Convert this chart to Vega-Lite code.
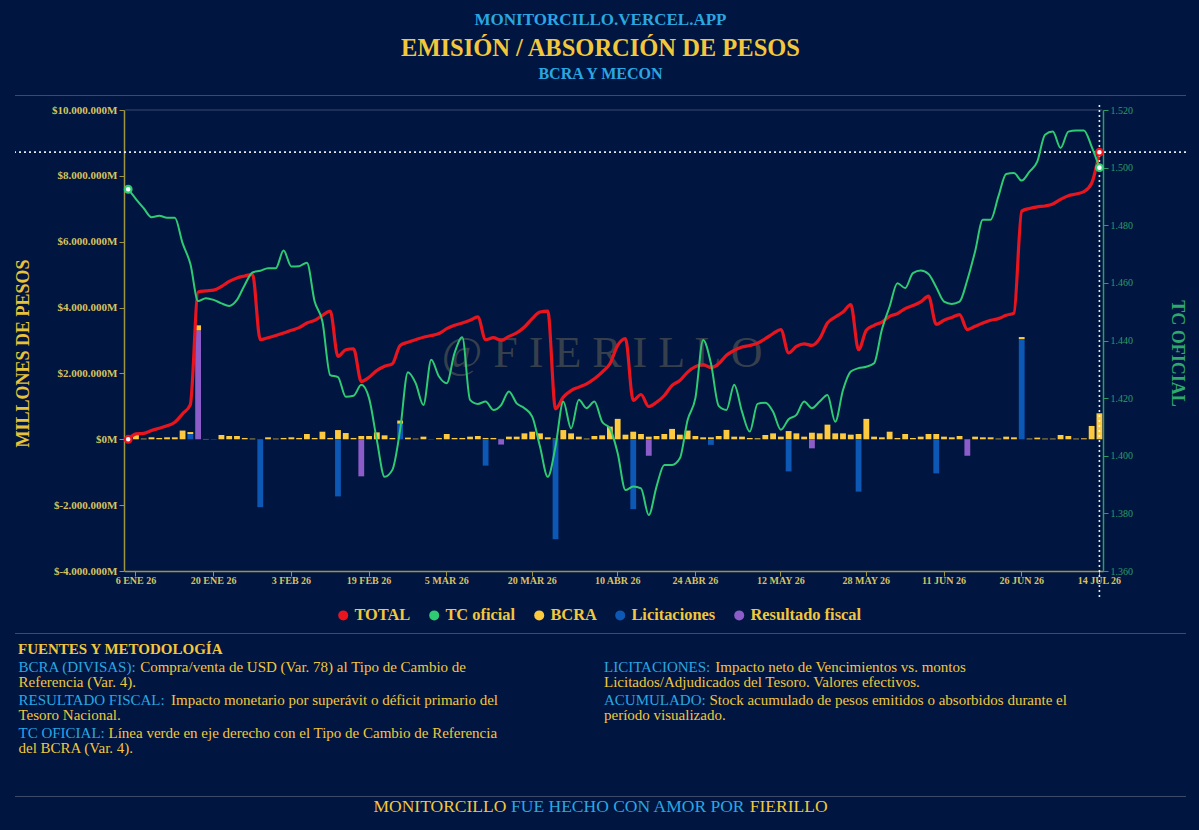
{
  "$schema": "https://vega.github.io/schema/vega-lite/v6.json",
  "background": "#001540",
  "padding": {"left": 14, "top": 10, "right": 14, "bottom": 15},
  "title": {"text": "MONITORCILLO.VERCEL.APP", "color": "#2AA7E1", "fontSize": 17, "fontWeight": "bold", "font": "Liberation Serif", "anchor": "middle", "offset": 7},
  "columns": 1,
  "align": "none",
  "spacing": 8,
  "datasets": {
    "diario": [
      {"fecha":"2026-01-05","total":0,"tc":1492.5},
      {"fecha":"2026-01-06","total":165000,"tc":1489.1},
      {"fecha":"2026-01-07","total":180000,"tc":1485.9},
      {"fecha":"2026-01-08","total":265000,"tc":1482.8},
      {"fecha":"2026-01-09","total":335000,"tc":1483.3},
      {"fecha":"2026-01-12","total":408000,"tc":1482.6},
      {"fecha":"2026-01-13","total":518000,"tc":1482.6},
      {"fecha":"2026-01-14","total":773000,"tc":1473.8},
      {"fecha":"2026-01-15","total":1056000,"tc":1466.6},
      {"fecha":"2026-01-16","total":4475000,"tc":1453.7},
      {"fecha":"2026-01-19","total":4505000,"tc":1454.7},
      {"fecha":"2026-01-20","total":4530000,"tc":1454.1},
      {"fecha":"2026-01-21","total":4640000,"tc":1452.9},
      {"fecha":"2026-01-22","total":4795000,"tc":1452.0},
      {"fecha":"2026-01-23","total":4900000,"tc":1454.1},
      {"fecha":"2026-01-26","total":4960000,"tc":1459.3},
      {"fecha":"2026-01-27","total":5010000,"tc":1463.6},
      {"fecha":"2026-01-28","total":3025000,"tc":1464.2},
      {"fecha":"2026-01-29","total":3085000,"tc":1465.1},
      {"fecha":"2026-01-30","total":3150000,"tc":1465.1},
      {"fecha":"2026-02-02","total":3225000,"tc":1471.2},
      {"fecha":"2026-02-03","total":3310000,"tc":1465.7},
      {"fecha":"2026-02-04","total":3390000,"tc":1465.8},
      {"fecha":"2026-02-05","total":3530000,"tc":1467.0},
      {"fecha":"2026-02-06","total":3610000,"tc":1453.5},
      {"fecha":"2026-02-09","total":3765000,"tc":1446.6},
      {"fecha":"2026-02-10","total":3895000,"tc":1428.0},
      {"fecha":"2026-02-11","total":2515000,"tc":1427.3},
      {"fecha":"2026-02-12","total":2720000,"tc":1420.5},
      {"fecha":"2026-02-13","total":2750000,"tc":1420.8},
      {"fecha":"2026-02-18","total":1755000,"tc":1424.6},
      {"fecha":"2026-02-19","total":1885000,"tc":1420.0},
      {"fecha":"2026-02-20","total":2090000,"tc":1405.5},
      {"fecha":"2026-02-23","total":2220000,"tc":1392.7},
      {"fecha":"2026-02-24","total":2290000,"tc":1395.1},
      {"fecha":"2026-02-25","total":2850000,"tc":1409.0},
      {"fecha":"2026-02-26","total":2950000,"tc":1429.0},
      {"fecha":"2026-02-27","total":3025000,"tc":1425.2},
      {"fecha":"2026-03-02","total":3100000,"tc":1417.6},
      {"fecha":"2026-03-03","total":3150000,"tc":1433.3},
      {"fecha":"2026-03-04","total":3210000,"tc":1427.5},
      {"fecha":"2026-03-05","total":3360000,"tc":1425.2},
      {"fecha":"2026-03-06","total":3460000,"tc":1435.6},
      {"fecha":"2026-03-09","total":3530000,"tc":1441.1},
      {"fecha":"2026-03-10","total":3615000,"tc":1419.4},
      {"fecha":"2026-03-11","total":3715000,"tc":1418.0},
      {"fecha":"2026-03-12","total":3025000,"tc":1418.8},
      {"fecha":"2026-03-13","total":3085000,"tc":1415.9},
      {"fecha":"2026-03-16","total":3005000,"tc":1417.6},
      {"fecha":"2026-03-17","total":3125000,"tc":1422.3},
      {"fecha":"2026-03-18","total":3230000,"tc":1418.2},
      {"fecha":"2026-03-19","total":3410000,"tc":1416.5},
      {"fecha":"2026-03-20","total":3665000,"tc":1413.6},
      {"fecha":"2026-03-25","total":3865000,"tc":1403.2},
      {"fecha":"2026-03-26","total":3895000,"tc":1392.7},
      {"fecha":"2026-03-27","total":925000,"tc":1403.2},
      {"fecha":"2026-03-30","total":1280000,"tc":1418.8},
      {"fecha":"2026-03-31","total":1480000,"tc":1409.5},
      {"fecha":"2026-04-01","total":1585000,"tc":1419.4},
      {"fecha":"2026-04-06","total":1685000,"tc":1416.5},
      {"fecha":"2026-04-07","total":1840000,"tc":1418.8},
      {"fecha":"2026-04-08","total":2040000,"tc":1411.8},
      {"fecha":"2026-04-09","total":2295000,"tc":1409.5},
      {"fecha":"2026-04-10","total":2850000,"tc":1400.9},
      {"fecha":"2026-04-13","total":3055000,"tc":1388.1},
      {"fecha":"2026-04-14","total":1180000,"tc":1389.3},
      {"fecha":"2026-04-15","total":1360000,"tc":1388.7},
      {"fecha":"2026-04-16","total":995000,"tc":1379.4},
      {"fecha":"2026-04-17","total":1125000,"tc":1389.3},
      {"fecha":"2026-04-20","total":1330000,"tc":1396.8},
      {"fecha":"2026-04-21","total":1635000,"tc":1396.8},
      {"fecha":"2026-04-22","total":1785000,"tc":1399.1},
      {"fecha":"2026-04-23","total":2040000,"tc":1412.4},
      {"fecha":"2026-04-24","total":2205000,"tc":1420.0},
      {"fecha":"2026-04-27","total":2265000,"tc":1440.2},
      {"fecha":"2026-04-28","total":2175000,"tc":1432.1},
      {"fecha":"2026-04-29","total":2295000,"tc":1417.3},
      {"fecha":"2026-04-30","total":2550000,"tc":1415.9},
      {"fecha":"2026-05-04","total":2700000,"tc":1424.6},
      {"fecha":"2026-05-05","total":2800000,"tc":1415.3},
      {"fecha":"2026-05-06","total":2850000,"tc":1408.4},
      {"fecha":"2026-05-07","total":2920000,"tc":1418.0},
      {"fecha":"2026-05-08","total":3055000,"tc":1418.4},
      {"fecha":"2026-05-11","total":3210000,"tc":1415.3},
      {"fecha":"2026-05-12","total":3330000,"tc":1409.0},
      {"fecha":"2026-05-13","total":2620000,"tc":1412.7},
      {"fecha":"2026-05-14","total":2820000,"tc":1414.2},
      {"fecha":"2026-05-15","total":2900000,"tc":1418.8},
      {"fecha":"2026-05-18","total":2850000,"tc":1416.5},
      {"fecha":"2026-05-19","total":3055000,"tc":1418.8},
      {"fecha":"2026-05-20","total":3530000,"tc":1421.1},
      {"fecha":"2026-05-21","total":3715000,"tc":1411.8},
      {"fecha":"2026-05-22","total":3865000,"tc":1422.8},
      {"fecha":"2026-05-26","total":4090000,"tc":1429.2},
      {"fecha":"2026-05-27","total":2720000,"tc":1430.4},
      {"fecha":"2026-05-28","total":3310000,"tc":1430.9},
      {"fecha":"2026-05-29","total":3460000,"tc":1432.1},
      {"fecha":"2026-06-01","total":3560000,"tc":1443.7},
      {"fecha":"2026-06-02","total":3735000,"tc":1451.8},
      {"fecha":"2026-06-03","total":3815000,"tc":1459.9},
      {"fecha":"2026-06-04","total":3970000,"tc":1458.2},
      {"fecha":"2026-06-05","total":4060000,"tc":1463.4},
      {"fecha":"2026-06-08","total":4170000,"tc":1464.3},
      {"fecha":"2026-06-09","total":4345000,"tc":1463.1},
      {"fecha":"2026-06-10","total":3490000,"tc":1458.5},
      {"fecha":"2026-06-11","total":3615000,"tc":1453.5},
      {"fecha":"2026-06-12","total":3700000,"tc":1452.7},
      {"fecha":"2026-06-16","total":3785000,"tc":1453.5},
      {"fecha":"2026-06-17","total":3330000,"tc":1461.0},
      {"fecha":"2026-06-18","total":3430000,"tc":1470.9},
      {"fecha":"2026-06-19","total":3530000,"tc":1481.9},
      {"fecha":"2026-06-22","total":3615000,"tc":1481.9},
      {"fecha":"2026-06-23","total":3665000,"tc":1490.0},
      {"fecha":"2026-06-24","total":3765000,"tc":1497.8},
      {"fecha":"2026-06-25","total":3835000,"tc":1498.1},
      {"fecha":"2026-06-26","total":6930000,"tc":1495.5},
      {"fecha":"2026-06-29","total":7010000,"tc":1498.6},
      {"fecha":"2026-06-30","total":7060000,"tc":1502.1},
      {"fecha":"2026-07-01","total":7085000,"tc":1511.4},
      {"fecha":"2026-07-02","total":7145000,"tc":1512.5},
      {"fecha":"2026-07-03","total":7285000,"tc":1506.8},
      {"fecha":"2026-07-06","total":7395000,"tc":1512.5},
      {"fecha":"2026-07-07","total":7450000,"tc":1512.9},
      {"fecha":"2026-07-08","total":7520000,"tc":1512.9},
      {"fecha":"2026-07-13","total":7775000,"tc":1507.3},
      {"fecha":"2026-07-14","total":8720000,"tc":1500.0}
    ],
    "barras": [
      {"fecha":"2026-01-05","serie":"BCRA","valor":50000},
      {"fecha":"2026-01-06","serie":"BCRA","valor":130000},
      {"fecha":"2026-01-07","serie":"BCRA","valor":20000},
      {"fecha":"2026-01-08","serie":"BCRA","valor":60000},
      {"fecha":"2026-01-09","serie":"BCRA","valor":40000},
      {"fecha":"2026-01-12","serie":"BCRA","valor":60000},
      {"fecha":"2026-01-13","serie":"BCRA","valor":60000},
      {"fecha":"2026-01-14","serie":"BCRA","valor":265000},
      {"fecha":"2026-01-15","serie":"BCRA","valor":60000},
      {"fecha":"2026-01-16","serie":"BCRA","valor":160000},
      {"fecha":"2026-01-19","serie":"BCRA","valor":10000},
      {"fecha":"2026-01-20","serie":"BCRA","valor":5000},
      {"fecha":"2026-01-21","serie":"BCRA","valor":130000},
      {"fecha":"2026-01-22","serie":"BCRA","valor":100000},
      {"fecha":"2026-01-23","serie":"BCRA","valor":100000},
      {"fecha":"2026-01-26","serie":"BCRA","valor":40000},
      {"fecha":"2026-01-27","serie":"BCRA","valor":20000},
      {"fecha":"2026-01-28","serie":"BCRA","valor":5000},
      {"fecha":"2026-01-29","serie":"BCRA","valor":60000},
      {"fecha":"2026-01-30","serie":"BCRA","valor":20000},
      {"fecha":"2026-02-02","serie":"BCRA","valor":40000},
      {"fecha":"2026-02-03","serie":"BCRA","valor":60000},
      {"fecha":"2026-02-04","serie":"BCRA","valor":40000},
      {"fecha":"2026-02-05","serie":"BCRA","valor":160000},
      {"fecha":"2026-02-06","serie":"BCRA","valor":40000},
      {"fecha":"2026-02-09","serie":"BCRA","valor":230000},
      {"fecha":"2026-02-10","serie":"BCRA","valor":40000},
      {"fecha":"2026-02-11","serie":"BCRA","valor":280000},
      {"fecha":"2026-02-12","serie":"BCRA","valor":190000},
      {"fecha":"2026-02-13","serie":"BCRA","valor":40000},
      {"fecha":"2026-02-18","serie":"BCRA","valor":100000},
      {"fecha":"2026-02-19","serie":"BCRA","valor":100000},
      {"fecha":"2026-02-20","serie":"BCRA","valor":210000},
      {"fecha":"2026-02-23","serie":"BCRA","valor":120000},
      {"fecha":"2026-02-24","serie":"BCRA","valor":40000},
      {"fecha":"2026-02-25","serie":"BCRA","valor":100000},
      {"fecha":"2026-02-26","serie":"BCRA","valor":50000},
      {"fecha":"2026-02-27","serie":"BCRA","valor":20000},
      {"fecha":"2026-03-02","serie":"BCRA","valor":80000},
      {"fecha":"2026-03-03","serie":"BCRA","valor":5000},
      {"fecha":"2026-03-04","serie":"BCRA","valor":40000},
      {"fecha":"2026-03-05","serie":"BCRA","valor":160000},
      {"fecha":"2026-03-06","serie":"BCRA","valor":40000},
      {"fecha":"2026-03-09","serie":"BCRA","valor":40000},
      {"fecha":"2026-03-10","serie":"BCRA","valor":80000},
      {"fecha":"2026-03-11","serie":"BCRA","valor":100000},
      {"fecha":"2026-03-12","serie":"BCRA","valor":40000},
      {"fecha":"2026-03-13","serie":"BCRA","valor":40000},
      {"fecha":"2026-03-16","serie":"BCRA","valor":10000},
      {"fecha":"2026-03-17","serie":"BCRA","valor":80000},
      {"fecha":"2026-03-18","serie":"BCRA","valor":80000},
      {"fecha":"2026-03-19","serie":"BCRA","valor":180000},
      {"fecha":"2026-03-20","serie":"BCRA","valor":230000},
      {"fecha":"2026-03-25","serie":"BCRA","valor":180000},
      {"fecha":"2026-03-26","serie":"BCRA","valor":60000},
      {"fecha":"2026-03-27","serie":"BCRA","valor":20000},
      {"fecha":"2026-03-30","serie":"BCRA","valor":280000},
      {"fecha":"2026-03-31","serie":"BCRA","valor":180000},
      {"fecha":"2026-04-01","serie":"BCRA","valor":80000},
      {"fecha":"2026-04-06","serie":"BCRA","valor":20000},
      {"fecha":"2026-04-07","serie":"BCRA","valor":100000},
      {"fecha":"2026-04-08","serie":"BCRA","valor":120000},
      {"fecha":"2026-04-09","serie":"BCRA","valor":385000},
      {"fecha":"2026-04-10","serie":"BCRA","valor":620000},
      {"fecha":"2026-04-13","serie":"BCRA","valor":140000},
      {"fecha":"2026-04-14","serie":"BCRA","valor":230000},
      {"fecha":"2026-04-15","serie":"BCRA","valor":160000},
      {"fecha":"2026-04-16","serie":"BCRA","valor":80000},
      {"fecha":"2026-04-17","serie":"BCRA","valor":100000},
      {"fecha":"2026-04-20","serie":"BCRA","valor":160000},
      {"fecha":"2026-04-21","serie":"BCRA","valor":315000},
      {"fecha":"2026-04-22","serie":"BCRA","valor":140000},
      {"fecha":"2026-04-23","serie":"BCRA","valor":265000},
      {"fecha":"2026-04-24","serie":"BCRA","valor":100000},
      {"fecha":"2026-04-27","serie":"BCRA","valor":60000},
      {"fecha":"2026-04-28","serie":"BCRA","valor":60000},
      {"fecha":"2026-04-29","serie":"BCRA","valor":100000},
      {"fecha":"2026-04-30","serie":"BCRA","valor":285000},
      {"fecha":"2026-05-04","serie":"BCRA","valor":80000},
      {"fecha":"2026-05-05","serie":"BCRA","valor":80000},
      {"fecha":"2026-05-06","serie":"BCRA","valor":40000},
      {"fecha":"2026-05-07","serie":"BCRA","valor":30000},
      {"fecha":"2026-05-08","serie":"BCRA","valor":130000},
      {"fecha":"2026-05-11","serie":"BCRA","valor":180000},
      {"fecha":"2026-05-12","serie":"BCRA","valor":80000},
      {"fecha":"2026-05-13","serie":"BCRA","valor":250000},
      {"fecha":"2026-05-14","serie":"BCRA","valor":180000},
      {"fecha":"2026-05-15","serie":"BCRA","valor":80000},
      {"fecha":"2026-05-18","serie":"BCRA","valor":200000},
      {"fecha":"2026-05-19","serie":"BCRA","valor":180000},
      {"fecha":"2026-05-20","serie":"BCRA","valor":445000},
      {"fecha":"2026-05-21","serie":"BCRA","valor":180000},
      {"fecha":"2026-05-22","serie":"BCRA","valor":180000},
      {"fecha":"2026-05-26","serie":"BCRA","valor":140000},
      {"fecha":"2026-05-27","serie":"BCRA","valor":160000},
      {"fecha":"2026-05-28","serie":"BCRA","valor":620000},
      {"fecha":"2026-05-29","serie":"BCRA","valor":80000},
      {"fecha":"2026-06-01","serie":"BCRA","valor":60000},
      {"fecha":"2026-06-02","serie":"BCRA","valor":230000},
      {"fecha":"2026-06-03","serie":"BCRA","valor":40000},
      {"fecha":"2026-06-04","serie":"BCRA","valor":160000},
      {"fecha":"2026-06-05","serie":"BCRA","valor":40000},
      {"fecha":"2026-06-08","serie":"BCRA","valor":80000},
      {"fecha":"2026-06-09","serie":"BCRA","valor":160000},
      {"fecha":"2026-06-10","serie":"BCRA","valor":160000},
      {"fecha":"2026-06-11","serie":"BCRA","valor":80000},
      {"fecha":"2026-06-12","serie":"BCRA","valor":60000},
      {"fecha":"2026-06-16","serie":"BCRA","valor":100000},
      {"fecha":"2026-06-17","serie":"BCRA","valor":5000},
      {"fecha":"2026-06-18","serie":"BCRA","valor":80000},
      {"fecha":"2026-06-19","serie":"BCRA","valor":60000},
      {"fecha":"2026-06-22","serie":"BCRA","valor":60000},
      {"fecha":"2026-06-23","serie":"BCRA","valor":20000},
      {"fecha":"2026-06-24","serie":"BCRA","valor":80000},
      {"fecha":"2026-06-25","serie":"BCRA","valor":60000},
      {"fecha":"2026-06-26","serie":"BCRA","valor":60000},
      {"fecha":"2026-06-29","serie":"BCRA","valor":20000},
      {"fecha":"2026-06-30","serie":"BCRA","valor":50000},
      {"fecha":"2026-07-01","serie":"BCRA","valor":20000},
      {"fecha":"2026-07-02","serie":"BCRA","valor":20000},
      {"fecha":"2026-07-03","serie":"BCRA","valor":130000},
      {"fecha":"2026-07-06","serie":"BCRA","valor":100000},
      {"fecha":"2026-07-07","serie":"BCRA","valor":20000},
      {"fecha":"2026-07-08","serie":"BCRA","valor":30000},
      {"fecha":"2026-07-13","serie":"BCRA","valor":405000},
      {"fecha":"2026-07-14","serie":"BCRA","valor":790000},
      {"fecha":"2026-01-15","serie":"Licitaciones","valor":160000},
      {"fecha":"2026-01-28","serie":"Licitaciones","valor":-2060000},
      {"fecha":"2026-02-11","serie":"Licitaciones","valor":-1735000},
      {"fecha":"2026-02-25","serie":"Licitaciones","valor":470000},
      {"fecha":"2026-03-12","serie":"Licitaciones","valor":-800000},
      {"fecha":"2026-03-27","serie":"Licitaciones","valor":-3035000},
      {"fecha":"2026-04-14","serie":"Licitaciones","valor":-2120000},
      {"fecha":"2026-04-28","serie":"Licitaciones","valor":-170000},
      {"fecha":"2026-05-13","serie":"Licitaciones","valor":-975000},
      {"fecha":"2026-05-27","serie":"Licitaciones","valor":-1590000},
      {"fecha":"2026-06-10","serie":"Licitaciones","valor":-1035000},
      {"fecha":"2026-06-26","serie":"Licitaciones","valor":3045000},
      {"fecha":"2026-01-16","serie":"Resultado fiscal","valor":3300000},
      {"fecha":"2026-02-18","serie":"Resultado fiscal","valor":-1125000},
      {"fecha":"2026-03-16","serie":"Resultado fiscal","valor":-160000},
      {"fecha":"2026-04-16","serie":"Resultado fiscal","valor":-500000},
      {"fecha":"2026-05-18","serie":"Resultado fiscal","valor":-275000},
      {"fecha":"2026-06-17","serie":"Resultado fiscal","valor":-500000}
    ],
    "notas": [
      {"columna":"izq","orden":1,"etiqueta":"BCRA (DIVISAS):","resto":"Compra/venta de USD (Var. 78) al Tipo de Cambio de","linea2":"Referencia (Var. 4)."},
      {"columna":"izq","orden":2,"etiqueta":"RESULTADO FISCAL:","resto":"Impacto monetario por superávit o déficit primario del","linea2":"Tesoro Nacional."},
      {"columna":"izq","orden":3,"etiqueta":"TC OFICIAL:","resto":"Línea verde en eje derecho con el Tipo de Cambio de Referencia","linea2":"del BCRA (Var. 4)."},
      {"columna":"der","orden":1,"etiqueta":"LICITACIONES:","resto":"Impacto neto de Vencimientos vs. montos","linea2":"Licitados/Adjudicados del Tesoro. Valores efectivos."},
      {"columna":"der","orden":2,"etiqueta":"ACUMULADO:","resto":"Stock acumulado de pesos emitidos o absorbidos durante el","linea2":"período visualizado."}
    ]
  },
  "concat": [
    {
      "width": 1171,
      "height": 1,
      "view": {"stroke": null, "fill": "#3e4b68"},
      "title": {"text": "EMISIÓN / ABSORCIÓN DE PESOS", "subtitle": "BCRA Y MECON", "color": "#F2C73B", "fontSize": 24.5, "fontWeight": "bold", "subtitleColor": "#2AA7E1", "subtitleFontSize": 16, "subtitleFontWeight": "bold", "subtitleFont": "Liberation Serif", "subtitlePadding": 5, "offset": 12, "anchor": "middle"},
      "data": {"values": []},
      "mark": "text",
      "encoding": {}
    },
    {
      "width": 1171,
      "height": 461,
      "layer": [
        {
          "layer": [
            {
              "data": {"values": [{"marca": "@ F I E R I L L O"}]},
              "mark": {"type": "text", "font": "Liberation Serif", "fontSize": 44, "color": "#5a5c55", "opacity": 0.6, "baseline": "middle", "align": "center"},
              "encoding": {
                "x": {"datum": "2026-04-08", "type": "ordinal"},
                "y": {"datum": 2600000, "type": "quantitative"},
                "text": {"field": "marca"}
              }
            },
            {
              "data": {"values": [{"nivel": 10000000}]},
              "mark": {"type": "rule", "strokeWidth": 1.2, "color": "#3b4a6e"},
              "encoding": {
                "x": {"datum": "2026-01-05", "type": "ordinal", "bandPosition": 0},
                "x2": {"datum": "2026-07-14", "bandPosition": 1},
                "y": {"field": "nivel", "type": "quantitative"}
              }
            },
            {
              "data": {"name": "barras"},
              "mark": {"type": "bar"},
              "encoding": {
                "x": {"field": "fecha", "type": "ordinal",
                  "scale": {"type": "band", "paddingInner": 0.25, "paddingOuter": 0.125, "range": [109.3, 1088.3]},
                  "axis": {"title": "\u00a0", "titleFontSize": 16, "titlePadding": 24, "values": ["2026-01-06","2026-01-20","2026-02-03","2026-02-19","2026-03-05","2026-03-20","2026-04-10","2026-04-24","2026-05-12","2026-05-28","2026-06-11","2026-06-26","2026-07-14"],
                    "labelExpr": "toNumber(slice(datum.value, 8, 10)) + ' ' + ['ENE','FEB','MAR','ABR','MAY','JUN','JUL'][toNumber(slice(datum.value, 5, 7)) - 1] + ' ' + slice(datum.value, 2, 4)",
                    "labelAngle": 0, "labelAlign": "center", "labelColor": "#D9C25E", "labelFontSize": 10, "labelFontWeight": "bold", "labelPadding": 4, "labelOverlap": false,
                    "domainColor": "#9D9546", "domainWidth": 1.5, "tickColor": "#9D9546", "tickSize": 5}},
                "y": {"field": "valor", "type": "quantitative",
                  "scale": {"domain": [-4000000, 10000000], "nice": false, "zero": false},
                  "axis": {"title": "MILLONES DE PESOS", "offset": -109, "values": [-4000000,-2000000,0,2000000,4000000,6000000,8000000,10000000],
                    "labelExpr": "'$' + format(datum.value, ',.0f') + 'M'",
                    "labelColor": "#D9C25E", "labelFontSize": 11, "labelFontWeight": "bold", "labelPadding": 2,
                    "titleColor": "#E9C23A", "titleFontSize": 18, "titleFontWeight": "bold", "titlePadding": 19, "titleY": 243,
                    "domainColor": "#9D9546", "domainWidth": 1.5, "tickColor": "#9D9546", "tickSize": 5}},
                "color": {"field": "serie", "type": "nominal",
                  "scale": {"domain": ["TOTAL","TC oficial","BCRA","Licitaciones","Resultado fiscal"], "range": ["#E8141E","#2FCB73","#FCC93F","#0C58B4","#8C5DC8"]},
                  "legend": {"orient": "none", "legendX": 320, "legendY": 512, "direction": "horizontal", "title": null, "symbolType": "circle", "symbolSize": 100, "symbolStrokeWidth": 0, "symbolOpacity": 1,
                    "labelColor": "#F2C73B", "labelFont": "Liberation Serif", "labelFontSize": 16.4, "labelFontWeight": "bold", "labelOffset": 3, "columnPadding": 15, "labelLimit": 300}}
              }
            },
            {
              "data": {"name": "diario"},
              "mark": {"type": "line", "interpolate": "monotone", "strokeWidth": 3.2, "strokeCap": "round", "color": "#E8141E"},
              "encoding": {
                "x": {"field": "fecha", "type": "ordinal", "bandPosition": 0.5},
                "y": {"field": "total", "type": "quantitative"}
              }
            },
            {
              "data": {"name": "diario"},
              "transform": [{"filter": {"field": "fecha", "equal": "2026-07-14"}}],
              "mark": {"type": "rule", "color": "#ffffff", "strokeDash": [2, 3], "strokeWidth": 1.6, "opacity": 0.9},
              "encoding": {
                "y": {"field": "total", "type": "quantitative"}
              }
            },
            {
              "data": {"name": "diario"},
              "transform": [{"filter": {"field": "fecha", "equal": "2026-07-14"}}],
              "mark": {"type": "rule", "color": "#ffffff", "strokeDash": [2, 3], "strokeWidth": 1.6, "opacity": 0.9},
              "encoding": {
                "x": {"field": "fecha", "type": "ordinal", "bandPosition": 0.5},
                "y": {"datum": 10150000, "type": "quantitative"},
                "y2": {"datum": -4850000}
              }
            },
            {
              "data": {"name": "diario"},
              "transform": [{"filter": {"field": "fecha", "oneOf": ["2026-01-05", "2026-07-14"]}}],
              "mark": {"type": "point", "filled": true, "fill": "#ffffff", "stroke": "#E8141E", "strokeWidth": 2.2, "size": 45, "opacity": 1},
              "encoding": {
                "x": {"field": "fecha", "type": "ordinal", "bandPosition": 0.5},
                "y": {"field": "total", "type": "quantitative"}
              }
            }
          ]
        },
        {
          "layer": [
            {
              "data": {"name": "diario"},
              "mark": {"type": "line", "interpolate": "monotone", "strokeWidth": 2, "color": "#2FCB73"},
              "encoding": {
                "x": {"field": "fecha", "type": "ordinal", "bandPosition": 0.5},
                "y": {"field": "tc", "type": "quantitative",
                  "scale": {"domain": [1360, 1520], "nice": false, "zero": false},
                  "axis": {"orient": "right", "offset": -83, "title": "TC OFICIAL", "values": [1360,1380,1400,1420,1440,1460,1480,1500,1520], "format": ",.0f",
                    "labelColor": "#2C9C69", "labelFontSize": 10, "labelPadding": 2,
                    "titleColor": "#2FA86C", "titleFontSize": 18, "titleFontWeight": "bold", "titlePadding": 35, "titleY": 243,
                    "domainColor": "#2C9C69", "domainWidth": 1.5, "tickColor": "#2C9C69", "tickSize": 5}}
              }
            },
            {
              "data": {"name": "diario"},
              "transform": [{"filter": {"field": "fecha", "oneOf": ["2026-01-05", "2026-07-14"]}}],
              "mark": {"type": "point", "filled": true, "fill": "#ffffff", "stroke": "#2FCB73", "strokeWidth": 2.2, "size": 45, "opacity": 1},
              "encoding": {
                "x": {"field": "fecha", "type": "ordinal", "bandPosition": 0.5},
                "y": {"field": "tc", "type": "quantitative"}
              }
            }
          ]
        }
      ],
      "resolve": {"scale": {"y": "independent"}}
    },
    {
      "width": 1171,
      "height": 1,
      "view": {"stroke": null, "fill": "#3e4b68"},
      "data": {"values": []},
      "mark": "text",
      "encoding": {}
    },
    {
      "width": 1171,
      "height": 128,
      "title": {"text": "FUENTES Y METODOLOGÍA", "anchor": "start", "color": "#F2C73B", "fontSize": 15, "fontWeight": "bold", "offset": 3, "dx": 3},
      "data": {"name": "notas"},
      "encoding": {
        "x": {"field": "columna", "type": "nominal", "bandPosition": 0, "scale": {"type": "band", "domain": ["izq", "der"], "paddingInner": 0, "paddingOuter": 0}, "axis": null},
        "y": {"field": "orden", "type": "ordinal", "scale": {"type": "point", "padding": 0.939, "align": 0}, "axis": null}
      },
      "layer": [
        {
          "mark": {"type": "text", "align": "left", "baseline": "top", "fontSize": 15, "dx": 3.5, "color": "#2AA7E1"},
          "encoding": {"text": {"field": "etiqueta"}}
        },
        {
          "mark": {"type": "text", "align": "left", "baseline": "top", "fontSize": 15, "dx": 3.5, "dy": 15, "color": "#F2C73B"},
          "encoding": {"text": {"field": "linea2"}}
        },
        {
          "transform": [{"filter": {"field": "etiqueta", "equal": "BCRA (DIVISAS):"}}],
          "mark": {"type": "text", "align": "left", "baseline": "top", "fontSize": 15, "dx": 125.2, "color": "#F2C73B"},
          "encoding": {"text": {"field": "resto"}}
        },
        {
          "transform": [{"filter": {"field": "etiqueta", "equal": "RESULTADO FISCAL:"}}],
          "mark": {"type": "text", "align": "left", "baseline": "top", "fontSize": 15, "dx": 156.0, "color": "#F2C73B"},
          "encoding": {"text": {"field": "resto"}}
        },
        {
          "transform": [{"filter": {"field": "etiqueta", "equal": "TC OFICIAL:"}}],
          "mark": {"type": "text", "align": "left", "baseline": "top", "fontSize": 15, "dx": 93.5, "color": "#F2C73B"},
          "encoding": {"text": {"field": "resto"}}
        },
        {
          "transform": [{"filter": {"field": "etiqueta", "equal": "LICITACIONES:"}}],
          "mark": {"type": "text", "align": "left", "baseline": "top", "fontSize": 15, "dx": 114.8, "color": "#F2C73B"},
          "encoding": {"text": {"field": "resto"}}
        },
        {
          "transform": [{"filter": {"field": "etiqueta", "equal": "ACUMULADO:"}}],
          "mark": {"type": "text", "align": "left", "baseline": "top", "fontSize": 15, "dx": 109.0, "color": "#F2C73B"},
          "encoding": {"text": {"field": "resto"}}
        }
      ]
    },
    {
      "width": 1171,
      "height": 1,
      "view": {"stroke": null, "fill": "#3e4b68"},
      "data": {"values": [{"autor": "MONITORCILLO", "frase": "FUE HECHO CON AMOR POR", "firma": "FIERILLO"}]},
      "layer": [
        {"mark": {"type": "text", "align": "left", "baseline": "middle", "dx": -227, "dy": 10, "fontSize": 17.5, "color": "#F2C73B"}, "encoding": {"text": {"field": "autor"}}},
        {"mark": {"type": "text", "align": "left", "baseline": "middle", "dx": -89.4, "dy": 10, "fontSize": 17.5, "color": "#2AA7E1"}, "encoding": {"text": {"field": "frase"}}},
        {"mark": {"type": "text", "align": "left", "baseline": "middle", "dx": 149.3, "dy": 10, "fontSize": 17.5, "color": "#F2C73B"}, "encoding": {"text": {"field": "firma"}}}
      ]
    }
  ],
  "config": {
    "font": "Liberation Serif",
    "view": {"stroke": null},
    "locale": {"number": {"decimal": ",", "thousands": ".", "grouping": [3], "currency": ["$", ""], "minus": "-"}},
    "axis": {"grid": false, "labelFont": "Liberation Serif", "titleFont": "Liberation Serif"},
    "title": {"font": "Liberation Serif"}
  }
}
